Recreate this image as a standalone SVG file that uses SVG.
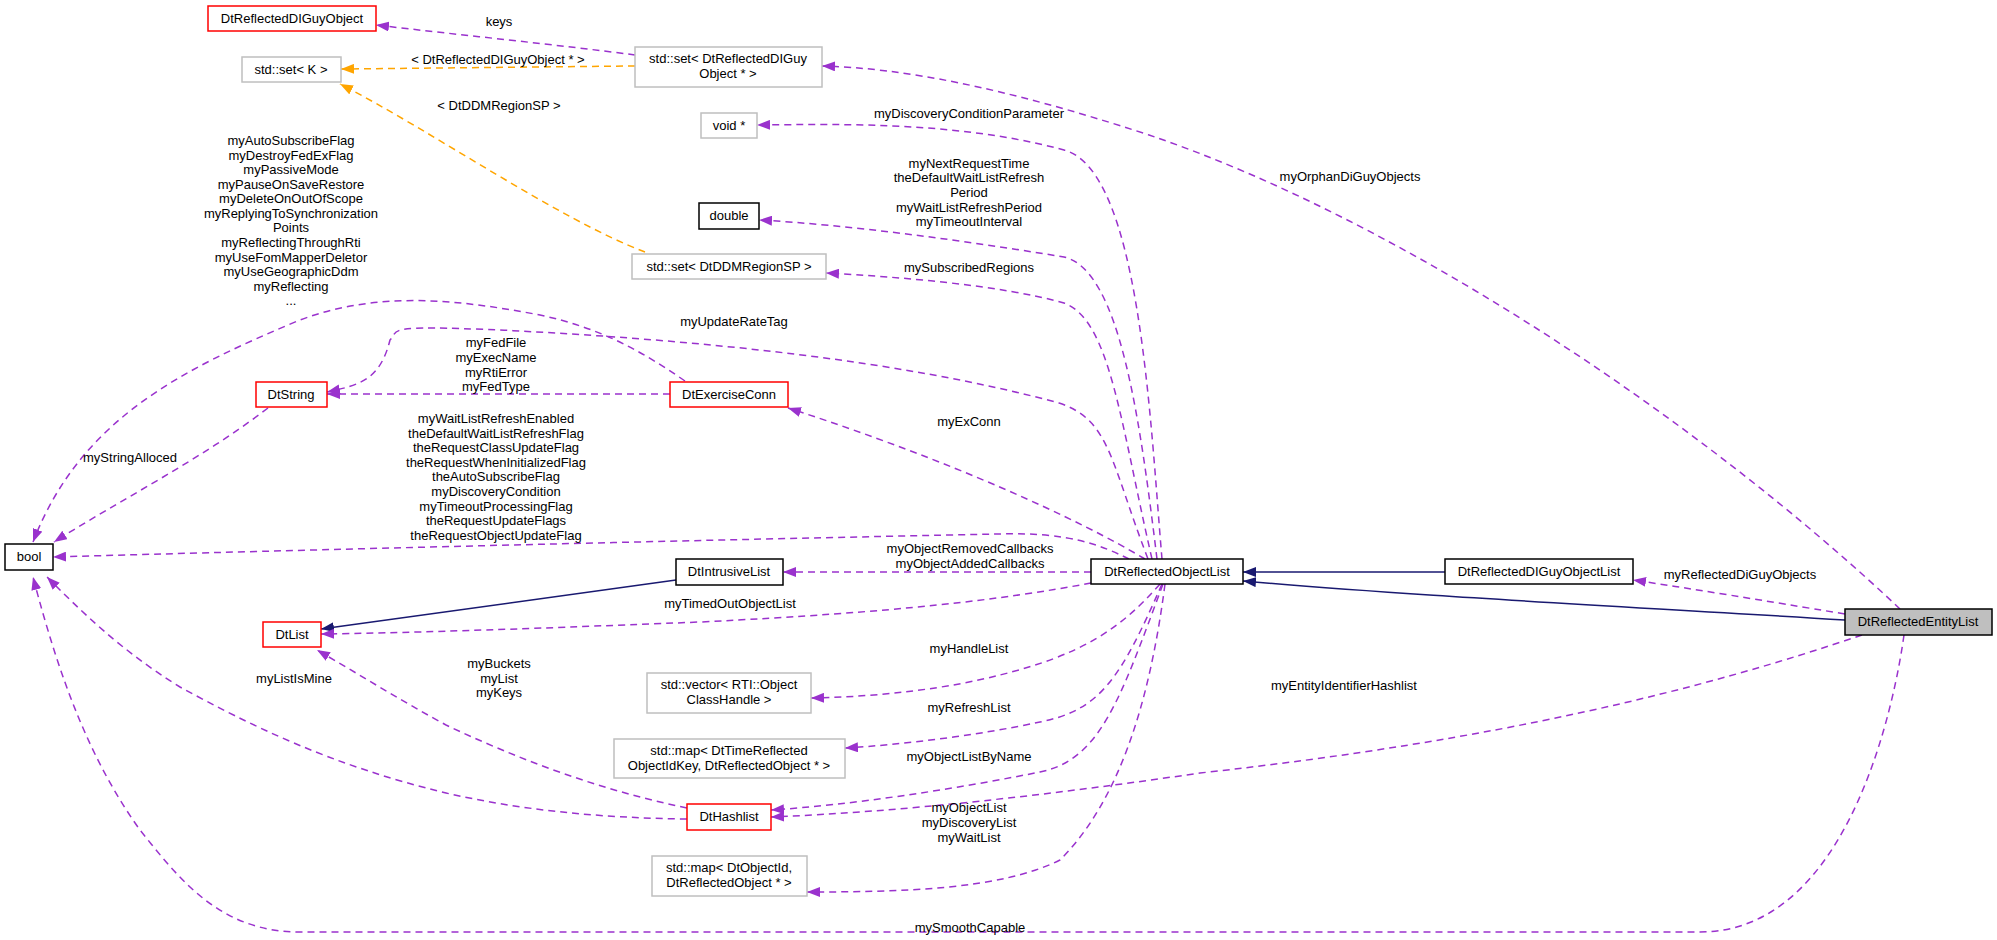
<svg xmlns="http://www.w3.org/2000/svg" width="1997" height="940" viewBox="0 0 1997 940">
<style>
text{font-family:"Liberation Sans",Arial,sans-serif;font-size:13px;fill:#000;text-anchor:middle}
.n rect{fill:#fff;stroke-width:1.5}
.blk rect{stroke:#000}
.red rect{stroke:#ff0000}
.gry rect{stroke:#bfbfbf}
.cur rect{fill:#bfbfbf;stroke:#000}
.e{fill:none;stroke-width:1.5}
.p{stroke:#9a32cd;stroke-dasharray:7,5;marker-end:url(#mp)}
.o{stroke:#ffa500;stroke-dasharray:7,5;marker-end:url(#mo)}
.s{stroke:#191970;marker-end:url(#mn)}
</style>
<defs>
<marker id="mp" markerUnits="userSpaceOnUse" markerWidth="14" markerHeight="10" refX="13" refY="5" orient="auto"><path d="M0,0L13,5L0,10z" fill="#9a32cd"/></marker>
<marker id="mo" markerUnits="userSpaceOnUse" markerWidth="14" markerHeight="10" refX="13" refY="5" orient="auto"><path d="M0,0L13,5L0,10z" fill="#ffa500"/></marker>
<marker id="mn" markerUnits="userSpaceOnUse" markerWidth="14" markerHeight="10" refX="13" refY="5" orient="auto"><path d="M0,0L13,5L0,10z" fill="#191970"/></marker>
</defs>
<g id="edges">
<path class="e p" d="M635,55 C560,45 460,35 376,25"/>
<path class="e o" d="M635,66 L341,69"/>
<path class="e o" d="M645,252 C560,220 430,130 340,84"/>
<path class="e p" d="M1900,609 C1700,420 1400,220 1149,135 C1000,86 900,68 822,66"/>
<path class="e p" d="M1162,559 C1150,420 1140,170 1064,150 C960,122 850,124 757,125"/>
<path class="e p" d="M1157,559 C1140,420 1120,270 1064,257 C960,240 850,225 759,220"/>
<path class="e p" d="M1152,559 C1120,420 1110,320 1064,303 C1000,285 900,277 826,273"/>
<path class="e p" d="M1148,559 C1110,460 1110,420 1059,403 C900,360 700,340 500,330 C380,325 400,330 390,340 C380,380 360,385 327,392"/>
<path class="e p" d="M685,381 C640,350 600,328 540,315 C460,300 380,290 300,320 C180,370 80,420 33,542"/>
<path class="e p" d="M670,394 L327,394"/>
<path class="e p" d="M268,408 C200,460 120,500 54,542"/>
<path class="e p" d="M1129,559 C1100,545 1070,532 1000,534 C700,540 300,550 53,557"/>
<path class="e p" d="M1091,572 L783,572"/>
<path class="e s" d="M676,580 L321,629"/>
<path class="e p" d="M1091,583 C1000,600 900,612 700,622 C500,630 400,633 321,634"/>
<path class="e p" d="M1160,584 C1120,630 1080,655 1000,675 C950,688 880,697 811,698"/>
<path class="e p" d="M1162,584 C1120,680 1100,710 1040,722 C980,735 900,745 845,748"/>
<path class="e p" d="M1163,584 C1120,700 1100,760 1040,772 C950,790 850,805 771,810"/>
<path class="e p" d="M1862,635 C1700,690 1500,740 1200,773 C1050,795 900,812 771,817"/>
<path class="e p" d="M1165,584 C1150,700 1120,800 1060,860 C1000,890 900,892 807,892"/>
<path class="e p" d="M1145,559 C1080,520 950,460 788,408"/>
<path class="e p" d="M687,808 C600,790 520,760 446,725 C400,700 360,675 317,650"/>
<path class="e p" d="M687,819 C600,818 520,810 446,793 C330,765 250,725 180,687 C120,650 80,610 47,577"/>
<path class="e p" d="M1904,635 C1895,700 1850,932 1700,932 L300,932 C220,932 180,880 140,830 C90,760 60,680 33,577"/>
<path class="e s" d="M1445,572 L1243,572"/>
<path class="e s" d="M1845,620 C1600,605 1400,595 1243,581"/>
<path class="e p" d="M1845,614 C1760,600 1700,590 1633,580"/>
</g>
<g id="labels">
<text x="499" y="26">keys</text>
<text x="498" y="64">&lt; DtReflectedDIGuyObject * &gt;</text>
<text x="499" y="110">&lt; DtDDMRegionSP &gt;</text>
<text x="1350" y="181">myOrphanDiGuyObjects</text>
<text x="969" y="118">myDiscoveryConditionParameter</text>
<text x="969" y="168">myNextRequestTime</text>
<text x="969" y="182">theDefaultWaitListRefresh</text>
<text x="969" y="197">Period</text>
<text x="969" y="212">myWaitListRefreshPeriod</text>
<text x="969" y="226">myTimeoutInterval</text>
<text x="969" y="272">mySubscribedRegions</text>
<text x="734" y="326">myUpdateRateTag</text>
<g>
<text x="291" y="145">myAutoSubscribeFlag</text>
<text x="291" y="160">myDestroyFedExFlag</text>
<text x="291" y="174">myPassiveMode</text>
<text x="291" y="189">myPauseOnSaveRestore</text>
<text x="291" y="203">myDeleteOnOutOfScope</text>
<text x="291" y="218">myReplyingToSynchronization</text>
<text x="291" y="232">Points</text>
<text x="291" y="247">myReflectingThroughRti</text>
<text x="291" y="262">myUseFomMapperDeletor</text>
<text x="291" y="276">myUseGeographicDdm</text>
<text x="291" y="291">myReflecting</text>
<text x="291" y="305">...</text>
</g>
<text x="496" y="347">myFedFile</text>
<text x="496" y="362">myExecName</text>
<text x="496" y="377">myRtiError</text>
<text x="496" y="391">myFedType</text>
<text x="130" y="462">myStringAlloced</text>
<text x="496" y="423">myWaitListRefreshEnabled</text>
<text x="496" y="438">theDefaultWaitListRefreshFlag</text>
<text x="496" y="452">theRequestClassUpdateFlag</text>
<text x="496" y="467">theRequestWhenInitializedFlag</text>
<text x="496" y="481">theAutoSubscribeFlag</text>
<text x="496" y="496">myDiscoveryCondition</text>
<text x="496" y="511">myTimeoutProcessingFlag</text>
<text x="496" y="525">theRequestUpdateFlags</text>
<text x="496" y="540">theRequestObjectUpdateFlag</text>
<text x="970" y="553">myObjectRemovedCallbacks</text>
<text x="970" y="568">myObjectAddedCallbacks</text>
<text x="730" y="608">myTimedOutObjectList</text>
<text x="969" y="653">myHandleList</text>
<text x="969" y="712">myRefreshList</text>
<text x="969" y="761">myObjectListByName</text>
<text x="1344" y="690">myEntityIdentifierHashlist</text>
<text x="969" y="812">myObjectList</text>
<text x="969" y="827">myDiscoveryList</text>
<text x="969" y="842">myWaitList</text>
<text x="969" y="426">myExConn</text>
<text x="499" y="668">myBuckets</text>
<text x="499" y="683">myList</text>
<text x="499" y="697">myKeys</text>
<text x="294" y="683">myListIsMine</text>
<text x="970" y="932">mySmoothCapable</text>
<text x="1740" y="579">myReflectedDiGuyObjects</text>
</g>
<g id="n1" class="n red"><rect x="208" y="6" width="168" height="25"/><text x="292" y="23">DtReflectedDIGuyObject</text></g>
<g id="n2" class="n gry"><rect x="242" y="57" width="99" height="25"/><text x="291" y="74">std::set&lt; K &gt;</text></g>
<g id="n3" class="n gry"><rect x="635" y="47" width="187" height="40"/><text x="728" y="63">std::set&lt; DtReflectedDIGuy</text><text x="728" y="78">Object * &gt;</text></g>
<g id="n4" class="n gry"><rect x="701" y="113" width="56" height="25"/><text x="729" y="130">void *</text></g>
<g id="n5" class="n blk"><rect x="699" y="203" width="60" height="26"/><text x="729" y="220">double</text></g>
<g id="n6" class="n gry"><rect x="632" y="254" width="194" height="25"/><text x="729" y="271">std::set&lt; DtDDMRegionSP &gt;</text></g>
<g id="n7" class="n red"><rect x="256" y="382" width="71" height="25"/><text x="291" y="399">DtString</text></g>
<g id="n8" class="n red"><rect x="670" y="382" width="118" height="25"/><text x="729" y="399">DtExerciseConn</text></g>
<g id="n9" class="n blk"><rect x="5" y="544" width="48" height="26"/><text x="29" y="561">bool</text></g>
<g id="n10" class="n blk"><rect x="676" y="559" width="107" height="26"/><text x="729" y="576">DtIntrusiveList</text></g>
<g id="n11" class="n red"><rect x="263" y="622" width="58" height="25"/><text x="292" y="639">DtList</text></g>
<g id="n12" class="n gry"><rect x="647" y="673" width="164" height="40"/><text x="729" y="689">std::vector&lt; RTI::Object</text><text x="729" y="704">ClassHandle &gt;</text></g>
<g id="n13" class="n gry"><rect x="614" y="739" width="231" height="39"/><text x="729" y="755">std::map&lt; DtTimeReflected</text><text x="729" y="770">ObjectIdKey, DtReflectedObject * &gt;</text></g>
<g id="n14" class="n red"><rect x="687" y="804" width="84" height="26"/><text x="729" y="821">DtHashlist</text></g>
<g id="n15" class="n gry"><rect x="652" y="856" width="155" height="40"/><text x="729" y="872">std::map&lt; DtObjectId,</text><text x="729" y="887">DtReflectedObject * &gt;</text></g>
<g id="n16" class="n blk"><rect x="1091" y="559" width="152" height="25"/><text x="1167" y="576">DtReflectedObjectList</text></g>
<g id="n17" class="n blk"><rect x="1445" y="559" width="188" height="25"/><text x="1539" y="576">DtReflectedDIGuyObjectList</text></g>
<g id="n18" class="n cur"><rect x="1845" y="609" width="147" height="26"/><text x="1918" y="626">DtReflectedEntityList</text></g>
</svg>
